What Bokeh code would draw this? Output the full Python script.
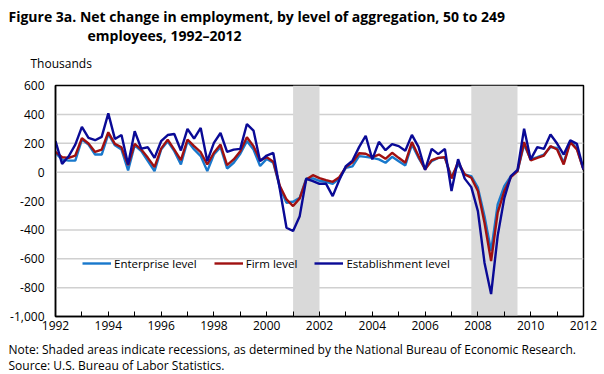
from bokeh.plotting import figure
from bokeh.models import (Range1d, FixedTicker, NumeralTickFormatter, Legend,
                          LegendItem, Title, ColumnDataSource)
from bokeh.embed import file_html
from bokeh.resources import INLINE

# ---------------- data (thousands, quarterly 1992Q1 .. 2012Q1) ----------------
quarter_index = list(range(81))
enterprise = [133, 87, 80, 80, 225, 191, 122, 122, 264, 186, 156, 12, 186, 145, 76, 7,
              156, 214, 145, 53, 215, 157, 111, 7, 122, 173, 25, 65, 127, 215, 157, 42,
              92, 65, -108, -212, -205, -178, -44, -44, -60, -67, -81, -44, 30, 40, 111, 106,
              99, 88, 65, 106, 76, 46, 191, 99, 25, 76, 99, 99, -35, 55, -16, -28,
              -108, -305, -547, -224, -97, -28, 7, 191, 88, 104, 122, 173, 168, 65, 214, 164, 18]
firm = [140, 103, 99, 115, 235, 198, 140, 156, 276, 196, 172, 48, 196, 156, 99, 35,
        163, 225, 156, 83, 226, 180, 138, 53, 134, 191, 48, 88, 145, 242, 180, 81,
        104, 72, -97, -189, -235, -182, -51, -21, -42, -55, -67, -35, 35, 69, 131, 127,
        104, 122, 92, 134, 99, 65, 208, 111, 18, 83, 99, 104, -44, 70, -16, -39,
        -131, -351, -616, -281, -131, -35, 7, 208, 81, 99, 115, 180, 157, 53, 208, 157, 18]
establishment = [215, 57, 110, 191, 313, 237, 221, 244, 407, 230, 257, 53, 283, 163, 172, 99,
                 214, 257, 264, 150, 299, 232, 306, 76, 202, 271, 140, 156, 161, 333, 288, 76,
                 115, 133, -120, -385, -408, -305, -46, -62, -81, -81, -166, -55, 42, 80, 173, 252,
                 88, 210, 152, 194, 180, 148, 258, 175, 15, 161, 125, 161, -131, 90, -45, -104,
                 -270, -627, -845, -440, -180, -28, 15, 300, 88, 173, 161, 261, 198, 122, 221, 196, 18]
start_year = 1992
end_year = 2012
quarters = [start_year + q / 4 for q in quarter_index]

recession_start = [2001.0, 2007.75]
recession_end = [2002.0, 2009.5]

x_tick_years = [1992, 1994, 1996, 1998, 2000, 2002, 2004, 2006, 2008, 2010, 2012]
x_minor_years = [1993, 1995, 1997, 1999, 2001, 2003, 2005, 2007, 2009, 2011]
y_ticks = [-1000, -800, -600, -400, -200, 0, 200, 400, 600]
y_gridlines = [-800, -600, -400, -200, 0, 200, 400]

series_names = ["Enterprise level", "Firm level", "Establishment level"]
series_colors = ["#1878cc", "#a01010", "#0a0a96"]

title_line1 = "Figure 3a. Net change in employment, by level of aggregation, 50 to 249"
title_line2 = "employees, 1992\u20132012"
y_unit = "Thousands"
note_text = "Note: Shaded areas indicate recessions, as determined by the National Bureau of Economic Research."
source_text = "Source: U.S. Bureau of Labor Statistics."

FONT = "Open Sans"

# ---------------- figure ----------------
p = figure(width=604, height=374, output_backend="svg", toolbar_location=None,
           x_range=Range1d(start_year, end_year), y_range=Range1d(-1000, 600),
           min_border_left=55, min_border_right=21, min_border_top=85,
           min_border_bottom=58)
p.outline_line_color = "black"
p.outline_line_width = 1.5
for g in p.grid:
    g.visible = False

# horizontal gridlines, drawn as thin filled bars spanning the x range
grid_src = ColumnDataSource(dict(xc=[(start_year + end_year) / 2] * len(y_gridlines),
                                 w=[end_year - start_year] * len(y_gridlines),
                                 y=y_gridlines))
p.rect(x="xc", y="y", width="w", height=1.5, height_units="screen", source=grid_src,
       fill_color="#d0d0d0", line_color=None)

# recession shading
rec = ColumnDataSource(dict(left=recession_start, right=recession_end,
                            bottom=[-1000] * len(recession_start),
                            top=[600] * len(recession_start)))
p.quad(left="left", right="right", bottom="bottom", top="top", source=rec,
       fill_color="#d9d9d9", line_color=None)

src = ColumnDataSource(dict(x=quarters, ent=enterprise, firm=firm, est=establishment))
r_ent = p.line("x", "ent", source=src, line_color=series_colors[0], line_width=2.4)
r_firm = p.line("x", "firm", source=src, line_color=series_colors[1], line_width=2.4)
r_est = p.line("x", "est", source=src, line_color=series_colors[2], line_width=2.4)

# axes
p.xaxis.ticker = FixedTicker(ticks=x_tick_years, minor_ticks=x_minor_years)
p.xaxis.major_tick_in = 5
p.xaxis.major_tick_out = 0
p.xaxis.minor_tick_in = 5
p.xaxis.minor_tick_out = 0
p.xaxis.major_tick_line_color = "black"
p.xaxis.minor_tick_line_color = "black"
p.xaxis.axis_line_color = "black"
p.xaxis.axis_line_width = 1.5
p.xaxis.major_label_standoff = 4
p.xaxis.major_label_text_font = FONT
p.xaxis.major_label_text_font_size = "12px"
p.xaxis.major_label_text_color = "black"

p.yaxis.ticker = FixedTicker(ticks=y_ticks, minor_ticks=[])
p.yaxis.formatter = NumeralTickFormatter(format="0,0")
p.yaxis.major_tick_in = 0
p.yaxis.major_tick_out = 0
p.yaxis.minor_tick_in = 0
p.yaxis.minor_tick_out = 0
p.yaxis.axis_line_color = "black"
p.yaxis.axis_line_width = 1.5
p.yaxis.major_label_standoff = 11
p.yaxis.major_label_text_font = FONT
p.yaxis.major_label_text_font_size = "12px"
p.yaxis.major_label_text_color = "black"

# legend
legend = Legend(items=[LegendItem(label=series_names[0], renderers=[r_ent]),
                       LegendItem(label=series_names[1], renderers=[r_firm]),
                       LegendItem(label=series_names[2], renderers=[r_est])],
                orientation="horizontal", location=(27, 45),
                glyph_width=29, glyph_height=16, label_height=16,
                label_standoff=3, spacing=17, padding=0, margin=0,
                border_line_color=None, background_fill_alpha=0,
                label_text_font=FONT, label_text_font_size="11.5px",
                label_text_color="black")
p.add_layout(legend)

# titles above the frame (first added = closest to the frame)
p.add_layout(Title(text=y_unit, align="left", offset=-25, standoff=27,
                   text_font=FONT, text_font_size="12px", text_font_style="normal",
                   text_color="black"), "above")
p.add_layout(Title(text=title_line2, align="left", offset=32, standoff=-11,
                   text_font=FONT, text_font_size="14px", text_font_style="bold",
                   text_color="black"), "above")
p.add_layout(Title(text=title_line1, align="left", offset=-47, standoff=7,
                   text_font=FONT, text_font_size="14px", text_font_style="bold",
                   text_color="black"), "above")

# notes below the axis
p.add_layout(Title(text=note_text, align="left", offset=-47, standoff=12,
                   text_font=FONT, text_font_size="12px", text_font_style="normal",
                   text_color="black"), "below")
p.add_layout(Title(text=source_text, align="left", offset=-47, standoff=-18,
                   text_font=FONT, text_font_size="12px", text_font_style="normal",
                   text_color="black"), "below")

open("out.html", "w").write(file_html(p, INLINE))
